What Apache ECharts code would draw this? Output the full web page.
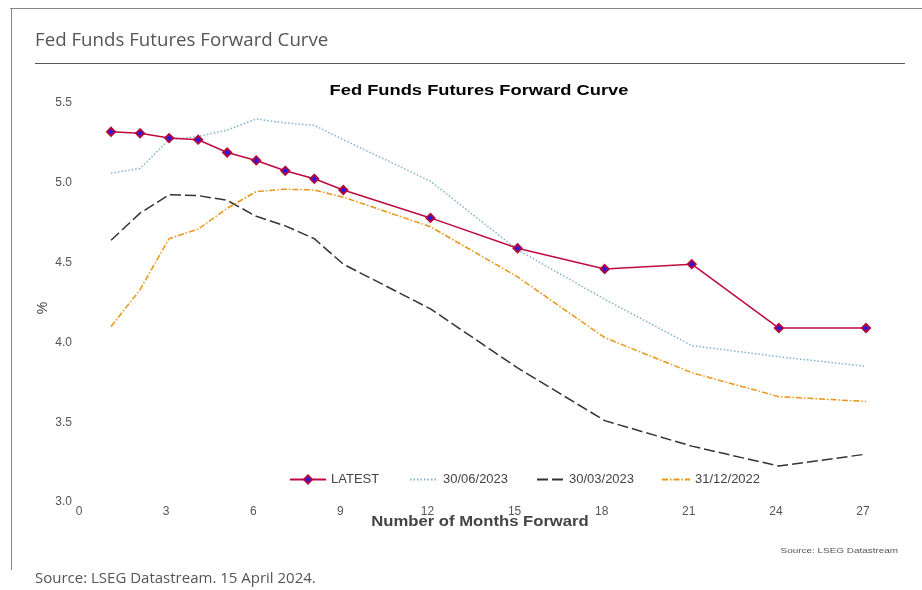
<!DOCTYPE html>
<html>
<head>
<meta charset="utf-8">
<script src="https://cdn.jsdelivr.net/npm/echarts@6/dist/echarts.min.js"></script>
<style>
    html, body { margin: 0; padding: 0; background: #fff; }
    #chart { width: 922px; height: 590px; }
</style>
</head>
<body>
<div id="chart"></div>
<script>
    // months forward
    const months = [1, 2, 3, 4, 5, 6, 7, 8, 9, 12, 15, 18, 21, 24, 27];
    const latest = [5.32, 5.31, 5.28, 5.27, 5.19, 5.14, 5.075, 5.025, 4.955, 4.78, 4.59, 4.46, 4.49, 4.09, 4.09];
    const jun2023 = [5.06, 5.09, 5.27, 5.29, 5.33, 5.40, 5.375, 5.36, 5.27, 5.01, 4.58, 4.27, 3.98, 3.91, 3.85];
    const mar2023 = [4.64, 4.81, 4.925, 4.92, 4.89, 4.79, 4.73, 4.65, 4.49, 4.21, 3.84, 3.51, 3.35, 3.225, 3.30];
    const dec2022 = [4.10, 4.33, 4.65, 4.71, 4.84, 4.945, 4.96, 4.955, 4.91, 4.725, 4.41, 4.03, 3.81, 3.66, 3.63];
    const seriesNames = ['LATEST', '30/06/2023', '30/03/2023', '31/12/2022'];

    const pairs = vals => months.map((m, i) => [m, vals[i]]);

    const chart = echarts.init(document.getElementById('chart'));
    const axisText = {color: '#555', fontFamily: 'Liberation Sans, Arial', fontSize: 12};

    const legendAt = (name, left, width, hideSymbol) => {
        const lg = {
            data: [name],
            left: left,
            top: 468,
            itemWidth: width,
            itemHeight: 10,
            textStyle: {color: '#444', fontFamily: 'Liberation Sans, Arial', fontSize: 13}
        };
        if (hideSymbol) lg.itemStyle = {opacity: 0};
        return lg;
    };

    const option = {
        animation: false,
        graphic: [
            {type: 'line', shape: {x1: 10, y1: 8.5, x2: 922, y2: 8.5}, style: {stroke: '#888', lineWidth: 1}},
            {type: 'line', shape: {x1: 11.5, y1: 8, x2: 11.5, y2: 570}, style: {stroke: '#888', lineWidth: 1}},
            {type: 'line', shape: {x1: 35, y1: 63.5, x2: 905, y2: 63.5}, style: {stroke: '#555', lineWidth: 1}},
            {type: 'text', x: 35, y: 41, style: {text: 'Fed Funds Futures Forward Curve', fill: '#555', font: '18.7px "Open Sans", sans-serif', textVerticalAlign: 'middle'}},
            {type: 'text', x: 35, y: 579, style: {text: 'Source: LSEG Datastream. 15 April 2024.', fill: '#555', font: '15px "Open Sans", sans-serif', textVerticalAlign: 'middle'}},
            {type: 'text', x: 898, y: 551, scaleX: 1.24, style: {text: 'Source: LSEG Datastream', fill: '#555', font: '8px "Liberation Sans", Arial', textAlign: 'right', textVerticalAlign: 'middle'}},
            {type: 'text', x: 479, y: 91, scaleX: 1.22, style: {text: 'Fed Funds Futures Forward Curve', fill: '#000', font: 'bold 15px "Liberation Sans", Arial', textAlign: 'center', textVerticalAlign: 'middle'}},
            {type: 'text', x: 480, y: 522, scaleX: 1.19, style: {text: 'Number of Months Forward', fill: '#444', font: 'bold 14px "Liberation Sans", Arial', textAlign: 'center', textVerticalAlign: 'middle'}},
            {type: 'text', x: 43, y: 308, rotation: Math.PI / 2, style: {text: '%', fill: '#444', font: '14px "Liberation Sans", Arial', textAlign: 'center', textVerticalAlign: 'middle'}}
        ],
        legend: [
            legendAt(seriesNames[0], 284, 36, false),
            legendAt(seriesNames[1], 404, 28, true),
            legendAt(seriesNames[2], 531, 27, true),
            legendAt(seriesNames[3], 656, 28, true)
        ],
        grid: {left: 82, right: 56, top: 103, bottom: 88, containLabel: false},
        xAxis: {
            type: 'value',
            min: 0,
            max: 27,
            interval: 3,
            axisLine: {show: false},
            axisTick: {show: false},
            splitLine: {show: false},
            axisLabel: Object.assign({margin: 4, padding: [0, 6, 0, 0]}, axisText)
        },
        yAxis: {
            type: 'value',
            min: 3,
            max: 5.5,
            interval: 0.5,
            axisLine: {show: false},
            axisTick: {show: false},
            splitLine: {show: false},
            axisLabel: Object.assign({margin: 10, padding: [4, 0, 0, 0], formatter: v => v.toFixed(1)}, axisText)
        },
        series: [
            {
                name: seriesNames[0],
                type: 'line',
                data: pairs(latest),
                symbol: 'diamond',
                symbolSize: 8,
                z: 5,
                lineStyle: {color: '#c0093f', width: 1.5},
                itemStyle: {color: '#1a1aff', borderColor: '#b0083a', borderWidth: 2}
            },
            {
                name: seriesNames[1],
                type: 'line',
                data: pairs(jun2023),
                symbol: 'none',
                lineStyle: {color: '#7fb3cc', width: 1.5, type: [1.5, 2]},
                itemStyle: {color: '#7fb3cc'}
            },
            {
                name: seriesNames[2],
                type: 'line',
                data: pairs(mar2023),
                symbol: 'none',
                lineStyle: {color: '#333', width: 1.5, type: [11, 4]},
                itemStyle: {color: '#333'}
            },
            {
                name: seriesNames[3],
                type: 'line',
                data: pairs(dec2022),
                symbol: 'none',
                lineStyle: {color: '#ec9416', width: 1.5, type: [6, 2, 1.5, 2]},
                itemStyle: {color: '#ec9416'}
            }
        ]
    };
    chart.setOption(option);
</script>
</body>
</html>
